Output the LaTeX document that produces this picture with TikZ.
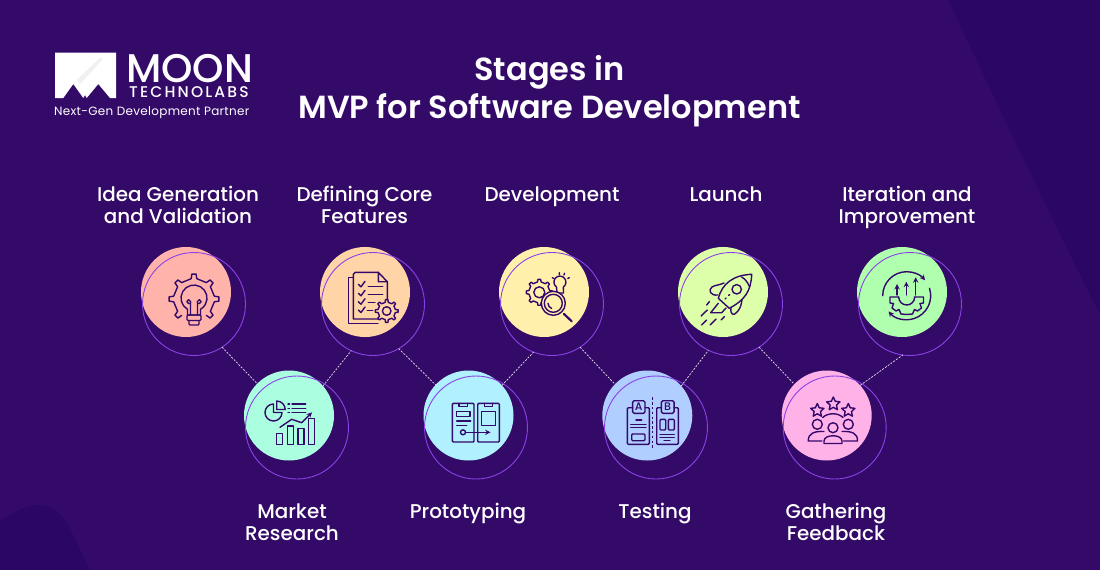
\documentclass[tikz,border=0pt]{standalone}
\usepackage{fontspec}
\usetikzlibrary{shapes.geometric}
\setmainfont{Poppins}
\newfontfamily\titlefont{Poppins SemiBold}
\newfontfamily\labelfont{Poppins Medium}
\newfontfamily\logofont{Poppins Medium}[LetterSpace=14]
\newfontfamily\logosmallfont{Poppins}[LetterSpace=2.5]
\definecolor{bgmain}{HTML}{340A68}
\definecolor{bgdark}{HTML}{2B0662}
\definecolor{ringline}{HTML}{8A42E6}
\definecolor{iconink}{HTML}{33086B}
\definecolor{dpink}{HTML}{FFB3AB}
\definecolor{dmint}{HTML}{ABFFE0}
\definecolor{dpeach}{HTML}{FFD5A8}
\definecolor{dcyan}{HTML}{B0F0FF}
\definecolor{dyellow}{HTML}{FFF0AC}
\definecolor{dblue}{HTML}{B0CEFF}
\definecolor{dlime}{HTML}{DEFFAA}
\definecolor{dmagenta}{HTML}{FFB2E8}
\definecolor{dgreen}{HTML}{B0FFAE}
\tikzset{
    disc/.style={circle,inner sep=0pt,outer sep=0pt,minimum size=90pt},
    ring/.style={circle,draw=ringline,line width=.9pt,inner sep=0pt,outer sep=0pt,minimum size=103pt},
    stage/.style={text=white,align=center,font=\labelfont\fontsize{19.9}{22}\selectfont},
    link/.style={draw=white!88!bgmain,line width=.7pt,dash pattern=on 2pt off 1.4pt},
    icon/.style={draw=iconink,line width=1.4pt,line cap=round,line join=round},
    staricon/.style={star,star points=5,star point ratio=2.1,draw=iconink,line width=1.4pt,line join=round,inner sep=0pt,minimum size=14pt},
}
% cx, cy, outer, inner, half tooth, first angle, teeth, options, end of path
\newcommand{\gearpath}[9]{
    \draw[icon,shift={(#1,#2)},#8] (#6-#5:#4) \foreach \a in {#7} { -- (\a-#5:#4) -- (\a-.6*#5:#3) -- (\a+.6*#5:#3) -- (\a+#5:#4) } #9;
}
\begin{document}
\begin{tikzpicture}[x=1pt,y=-1pt]
        \useasboundingbox (0,0) rectangle (1100,570);
        \fill[bgmain] (0,0) rectangle (1100,570);
        \fill[bgdark] (948,0) .. controls (1000,110) and (1050,215) .. (1100,315) -- (1100,0) -- cycle;
        \fill[bgdark] (0,521) .. controls (14,512) and (26,505) .. (38,505) .. controls (58,506) and (66,520) .. (74,537) -- (90,570) -- (0,570) -- cycle;

        \fill[white] (55,52.7) -- (116,52.7) -- (116,98) -- (110,98) -- (98.3,84) -- (86.7,98) -- (85,95) -- (83.3,98) -- (73.3,84) -- (63.3,98) -- (55,98) -- cycle;
        \fill[black!6] (100,58) -- (103,59) -- (80,84) -- (76.7,80) -- cycle;
        \node[text=white,anchor=base west,inner sep=0pt,font=\labelfont\fontsize{40}{40}\selectfont] (logomoon) at (126,82) {MOON};
        \node[text=white,anchor=base west,inner sep=0pt,font=\logofont\fontsize{15.5}{16}\selectfont] (logotech) at (129,97.7) {TECHNOLABS};
        \node[text=white,anchor=base west,inner sep=0pt,font=\logosmallfont\fontsize{12}{13}\selectfont] (logotag) at (54,115) {Next-Gen Development Partner};

        \node[text=white,align=center,font=\titlefont\fontsize{32}{38}\selectfont] (title) at (549.5,91) {Stages in\\MVP for Software Development};

        \node[stage] (l1) at (178,205) {Idea Generation\\and Validation};
        \node[stage] (l2) at (292,522) {Market\\Research};
        \node[stage] (l3) at (364.5,205) {Defining Core\\Features};
        \node[stage] (l4) at (468,514) {Prototyping};
        \node[stage] (l5) at (552,197) {Development};
        \node[stage] (l6) at (655,514) {Testing};
        \node[stage] (l7) at (726,194) {Launch};
        \node[stage] (l8) at (836,522) {Gathering\\Feedback};
        \node[stage] (l9) at (907,207) {Iteration and\\Improvement};

        \node[disc,fill=dpink]    (d1) at (186,292) {};
        \node[disc,fill=dmint]    (d2) at (289,415.5) {};
        \node[disc,fill=dpeach]   (d3) at (365,292) {};
        \node[disc,fill=dcyan]    (d4) at (468.5,415.5) {};
        \node[disc,fill=dyellow]  (d5) at (544,292) {};
        \node[disc,fill=dblue]    (d6) at (647.3,415.5) {};
        \node[disc,fill=dlime]    (d7) at (723,292) {};
        \node[disc,fill=dmagenta] (d8) at (826.7,415.5) {};
        \node[disc,fill=dgreen]   (d9) at (902,292) {};

        \node[ring] (r1) at (194,304) {};
        \node[ring] (r2) at (297,427.5) {};
        \node[ring] (r3) at (373,304) {};
        \node[ring] (r4) at (476,427.5) {};
        \node[ring] (r5) at (552,304) {};
        \node[ring] (r6) at (656,427.5) {};
        \node[ring] (r7) at (731,304) {};
        \node[ring] (r8) at (834.7,427.5) {};
        \node[ring] (r9) at (910,304) {};

        \path [link] (r1.-57) edge (d2.135);
        \path [link] (d2.41)  edge (r3.245);
        \path [link] (r3.-60) edge (d4.137);
        \path [link] (d4.42)  edge (r5.249);
        \path [link] (r5.-57) edge (d6.136);
        \path [link] (d6.41)  edge (r7.244);
        \path [link] (r7.-57) edge (d8.136);
        \path [link] (d8.42)  edge (r9.262);

        \gearpath{194}{299}{25}{20.5}{8}{135}{135,180,225,270,315,360,405}{}{}
        \draw[icon] (187.5,309.3) arc[start angle=120,end angle=420,radius=13] -- (200.5,315) -- (187.5,315) -- cycle;
        \draw[icon,rounded corners=1pt] (187,315) rectangle (201,320.5);
        \draw[icon,rounded corners=1pt] (189,320.5) -- (189,325) -- (199,325) -- (199,320.5);
        \draw[icon] (190.5,315) -- (190.5,303.5) -- (188.7,303.5) arc[start angle=90,end angle=360,radius=1.9] -- (190.5,303.5);
        \draw[icon] (197.5,315) -- (197.5,303.5) -- (199.3,303.5) arc[start angle=90,end angle=-180,radius=1.9] -- (197.5,303.5);

        \draw[icon] (273.5,404) arc[start angle=-90,end angle=-360,radius=8.5] -- (273.5,412.5) -- cycle;
        \draw[icon] (276.7,401) arc[start angle=-90,end angle=0,radius=8.5] -- (276.7,409.5) -- cycle;
        \draw[icon] (288,404) -- (289.5,404) (292,404) -- (305.7,404);
        \draw[icon] (288,408.3) -- (289.5,408.3) (292,408.3) -- (305.7,408.3);
        \draw[icon] (288,412.7) -- (289.5,412.7) (292,412.7) -- (305.7,412.7);
        \draw[icon,-stealth] (280,427.3) -- (291.7,419.3) -- (301.7,422.7) -- (312,412.4);
        \draw[icon] (276.7,433.3) rectangle (282.7,444.3);
        \draw[icon] (287.3,426) rectangle (293.3,444.3);
        \draw[icon] (298,428.7) rectangle (304,444.3);
        \draw[icon] (308.7,418.7) rectangle (314.7,444.3);

        \draw[icon] (353.3,277.3) -- (348.3,277.3) -- (348.3,323.3) -- (378,323.3);
        \draw[icon,fill=dpeach] (378.3,272.3) -- (355.3,272.3) -- (353.3,274.3) -- (353.3,319) -- (380,319);
        \draw[icon] (378.3,272.3) -- (387.3,281.7) -- (387.3,300) (378.3,272.3) -- (378.3,281.7) -- (387.3,281.7);
        \foreach \y in {284.3,293.3,301.7,310} {
            \draw[icon] (358.3,\y) -- (361,\y+2.5) -- (365,\y-3);
        }
        \draw[icon] (368.3,286.7) -- (382.7,286.7) (368.3,294.3) -- (382.7,294.3) (368.3,302.3) -- (375,302.3) (367.3,310.7) -- (372.7,310.7);
        \gearpath{386.7}{311}{11.5}{8.8}{10}{0}{0,45,90,135,180,225,270,315}{fill=dpeach}{-- cycle}
        \draw[icon] (386.7,311) circle (4.3);

        \gearpath{539.3}{292.3}{13}{10.5}{10}{0}{0,45,90,135,180,225,270,315}{}{-- cycle}
        \draw[icon] (539.3,292.3) circle (5.5);
        \draw[icon] (556.5,287) arc[start angle=125,end angle=415,radius=6] -- (563.5,293) -- (557,293) -- cycle;
        \draw[icon,fill=dyellow] (553.3,303.3) circle (12);
        \draw[icon] (553.3,303.3) circle (9);
        \draw[icon] (548,303.3) arc[start angle=180,end angle=110,radius=5.5];
        \draw[icon,line width=2.2pt] (564,314) -- (571.7,321.3);
        \draw[icon] (552.3,277.7) -- (553.8,278.5) (559.3,272.7) -- (559.3,274.5) (564.5,273.3) -- (564,275) (569.3,277.7) -- (567.8,278.5);

        \draw[icon,fill=dlime] (718.3,298.3) .. controls (722,284) and (733,275) .. (751.7,274.3) .. controls (751,291) and (745,300) .. (729.3,308.3) -- cycle;
        \draw[icon] (741.7,277) .. controls (745,279) and (747.5,282) .. (749.5,286.5);
        \draw[icon] (736.7,289.3) circle (4.7);
        \draw[icon] (718,295) .. controls (710,296) and (708,290) .. (712,287) .. controls (715,285) and (720,285) .. (724,283);
        \draw[icon] (731,308) .. controls (730,315) and (734,316) .. (737,312) .. controls (740,309) and (741,306) .. (742,300);
        \draw[icon] (718.3,303.3) -- (710.7,312.7) -- (721.7,312.7) -- (726,308);
        \draw[icon] (725,299) -- (726,298) (728.5,295.5) -- (729.5,294.5);
        \draw[icon] (706.7,305) -- (709.3,301.7) (701,316) -- (707.3,310) (701.7,325) -- (706.7,320) (710,325) -- (716,319) (721,320) -- (724.3,316.7);

        \draw[icon,rounded corners=1pt] (452.3,403.3) rectangle (474,442);
        \draw[icon,rounded corners=1pt] (477.7,403.3) rectangle (499.3,442);
        \draw[icon] (459,403.3) -- (459,406.7) -- (467.3,406.7) -- (467.3,403.3);
        \draw[icon] (484.3,403.3) -- (484.3,406.7) -- (492.7,406.7) -- (492.7,403.3);
        \draw[icon] (456.7,411.7) rectangle (470,416.7);
        \draw[icon] (456.7,421) -- (470.7,421) (456.7,425.7) -- (466.7,425.7);
        \draw[icon] (481.7,411.7) rectangle (495.7,425.7);
        \draw[icon] (463,432.3) circle (2.5);
        \draw[icon,-stealth] (465.5,432.3) -- (490.5,432.3);

        \draw[icon,rounded corners=1pt] (632.7,407.7) -- (627.3,407.7) -- (627.3,444.3) -- (649.3,444.3) -- (649.3,407.7) -- (645,407.7);
        \draw[icon,rounded corners=1pt] (661.3,407.7) -- (656.7,407.7) -- (656.7,444.3) -- (678.3,444.3) -- (678.3,407.7) -- (674,407.7);
        \node[icon,draw,rounded corners=1.5pt,inner sep=0pt,minimum width=12.3pt,minimum height=12.6pt,text=iconink,font=\labelfont\fontsize{11}{11}\selectfont] (taba) at (638.8,407) {A};
        \node[icon,draw,rounded corners=1.5pt,inner sep=0pt,minimum width=12.7pt,minimum height=12.6pt,text=iconink,font=\labelfont\fontsize{11}{11}\selectfont] (tabb) at (667.7,407) {B};
        \draw[icon,dash pattern=on 2.4pt off 2.4pt,line cap=butt] (652.7,397.3) -- (652.7,448.3);
        \draw[icon] (636,420) -- (641.7,420) (630.7,424.3) -- (646,424.3) (630.7,427.7) -- (646,427.7);
        \draw[icon,rounded corners=1pt] (631.7,434) rectangle (645,440.7);
        \draw[icon,rounded corners=1pt] (660,419.3) rectangle (665.7,430);
        \draw[icon,rounded corners=1pt] (668.3,419.3) rectangle (674.3,430);
        \draw[icon] (660,434.3) -- (674.3,434.3) (660,437.3) -- (674.3,437.3) (664,440.7) -- (670,440.7);

        \node[staricon] (star1) at (817.3,410.5) {};
        \node[staricon] (star2) at (833.3,404) {};
        \node[staricon] (star3) at (848.3,410.5) {};
        \draw[icon] (822.7,417.5) .. controls (828,412.5) and (838,412.5) .. (843,417.5);
        \draw[icon] (817.3,424.3) circle (5);
        \draw[icon] (848.3,424.3) circle (5);
        \draw[icon] (833,427.7) circle (5);
        \draw[icon] (824,443.5) -- (824,441) .. controls (824,434) and (842,434) .. (842,441) -- (842,443.5) -- cycle;
        \draw[icon] (822,441) -- (808.3,441) .. controls (808,433) and (815,431) .. (824,431.5);
        \draw[icon] (843.5,441) -- (857.5,441) .. controls (858,433) and (851,431) .. (842,431.5);

        \draw[icon,-stealth] (882.7,295.7) arc[start angle=180,end angle=320,radius=24];
        \draw[icon,-stealth] (929.5,288.3) arc[start angle=-18,end angle=139,radius=24];
        \draw[icon] (898.7,297) arc[start angle=180,end angle=0,radius=8];
        \draw[icon] (898.7,297) -- (890,297) -- (890,303) -- (893.5,303.5) (914.7,297) -- (923.5,297) -- (923.5,303) -- (920,303.5);
        \draw[icon] (893.5,303.5) -- (892,308) -- (896,311) -- (899,309.5) -- (901,314) -- (906.7,314.5) -- (912.5,314) -- (914.5,309.5) -- (917.5,311) -- (921.5,308) -- (920,303.5);
        \draw[icon,-stealth] (897,295) -- (897,284);
        \draw[icon,-stealth] (906.3,295) -- (906.3,281.7);
        \draw[icon,-stealth] (915.7,295) -- (915.7,277.3);
    \end{tikzpicture}
\end{document}
